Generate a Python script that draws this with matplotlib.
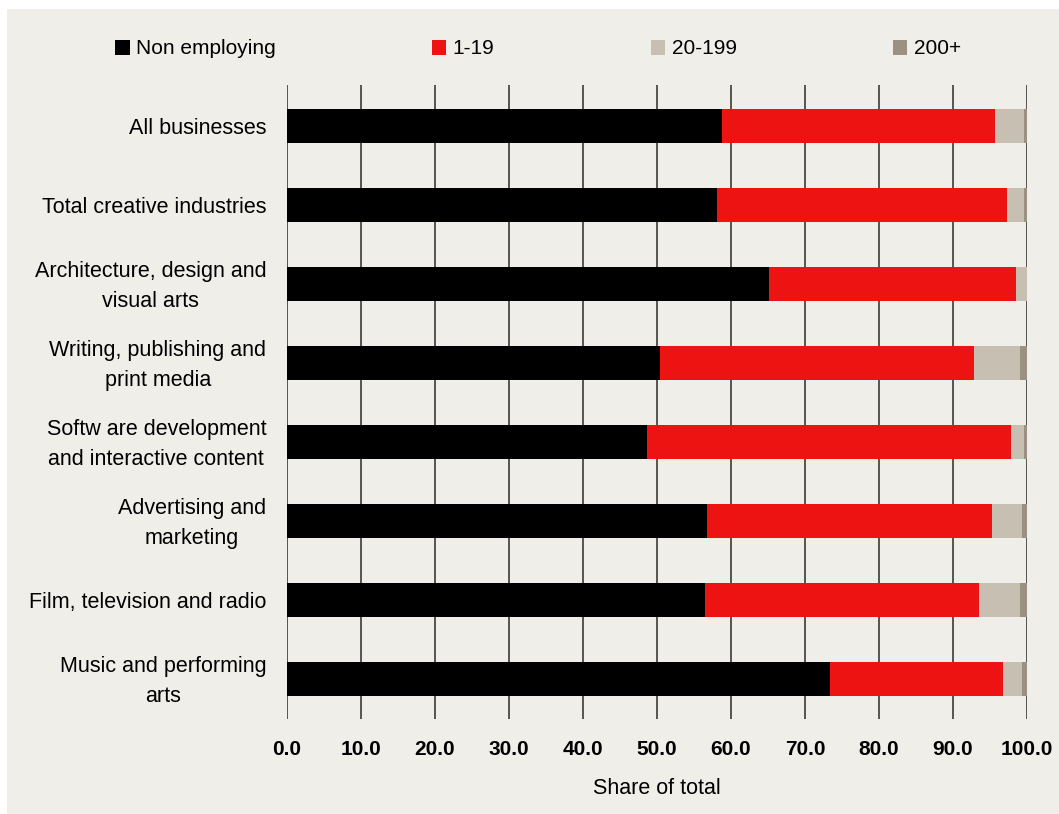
import matplotlib
matplotlib.use("Agg")
import matplotlib.pyplot as plt
import numpy as np
from matplotlib.patches import Rectangle

plt.rcParams["font.family"] = ["Liberation Sans", "DejaVu Sans"]

categories = [
    "All businesses",
    "Total creative industries",
    "Architecture, design and\nvisual arts",
    "Writing, publishing and\nprint media",
    "Softw are development\nand interactive content",
    "Advertising and\nmarketing",
    "Film, television and radio",
    "Music and performing\narts",
]
non_employing = [58.8, 58.1, 65.1, 50.4, 48.6, 56.7, 56.5, 73.4]
emp_1_19 = [36.9, 39.2, 33.4, 42.4, 49.2, 38.6, 37.0, 23.4]
emp_20_199 = [3.9, 2.3, 1.5, 6.3, 1.8, 4.0, 5.6, 2.5]
emp_200_plus = [0.4, 0.4, 0.0, 0.9, 0.4, 0.7, 0.9, 0.7]

series = [
    ("Non employing", non_employing, "#000000"),
    ("1-19", emp_1_19, "#ee1313"),
    ("20-199", emp_20_199, "#c7bfb2"),
    ("200+", emp_200_plus, "#9b9180"),
]

bg = "#f0eee9"
W, H = 1059, 814
fig = plt.figure(figsize=(W / 100, H / 100), dpi=100, facecolor="white")
fig.patches.append(Rectangle((7 / W, 0), 1, 1 - 9 / H, transform=fig.transFigure,
                             facecolor=bg, edgecolor="none", zorder=-10))

ax = fig.add_axes([287 / W, 1 - 719 / H, (1027 - 287) / W, (719 - 85) / H])
ax.patch.set_alpha(0)

y = np.arange(len(categories))
left = np.zeros(len(categories))
handles = []
for name, vals, color in series:
    vals = np.array(vals)
    h = ax.barh(y, vals, left=left, height=0.43, color=color, label=name, zorder=3)
    handles.append(h)
    left += vals

ax.set_ylim(len(categories) - 0.5, -0.52)
ax.set_xlim(0, 100)
ax.set_xticks(np.arange(0, 101, 10))
ax.set_xticklabels([f"{v:.1f}" for v in np.arange(0, 101, 10)],
                   fontsize=15, fontweight="bold")
ax.set_yticks(y)
ax.set_yticklabels(categories, fontsize=15.5, multialignment="center", linespacing=1.55)
ax.tick_params(axis="y", length=0, pad=15)
ax.tick_params(axis="x", length=0, pad=15)
ax.grid(axis="x", color="#3a3a3a", linewidth=1.2, zorder=1)
for s in ax.spines.values():
    s.set_visible(False)
ax.set_xlabel("Share of total", fontsize=15.5, labelpad=14)

# nudge the two-line category labels up a little
for lbl in ax.get_yticklabels():
    if "\n" in lbl.get_text():
        lbl.set_y(lbl.get_position()[1])
        lbl.set_transform(lbl.get_transform() + matplotlib.transforms.ScaledTranslation(0, 5 / 100, fig.dpi_scale_trans))

fig.legend(handles=handles, loc="center left", bbox_to_anchor=(115 / W, 1 - 49 / H),
           ncol=4, frameon=False, fontsize=15, handlelength=0.7, handleheight=0.7,
           handletextpad=0.3, columnspacing=7.5, borderaxespad=0, borderpad=0)

fig.savefig("out.png", dpi=100, facecolor="white")
